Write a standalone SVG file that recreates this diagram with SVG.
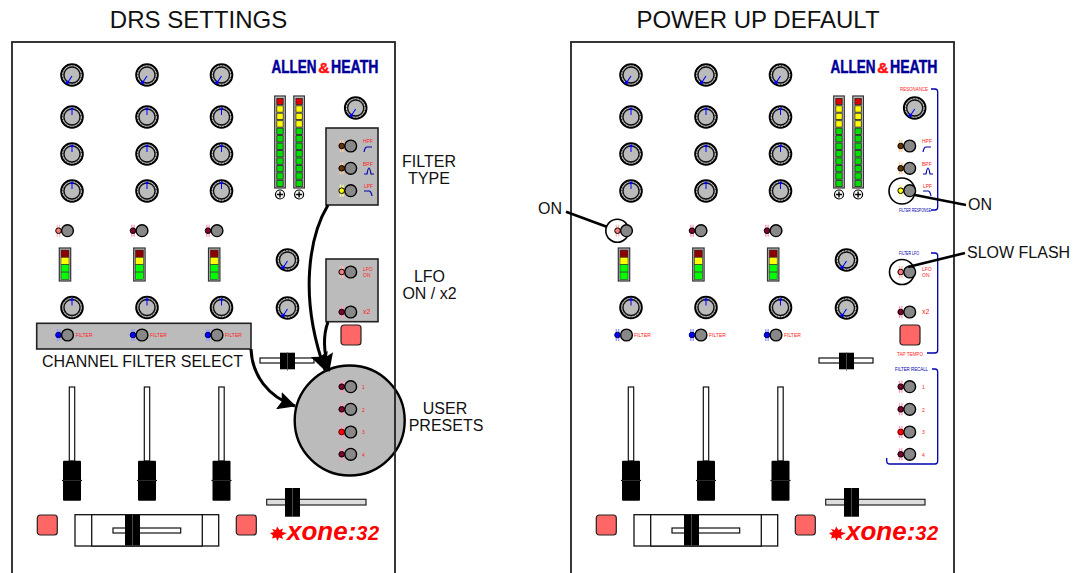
<svg xmlns="http://www.w3.org/2000/svg" width="1080" height="573" viewBox="0 0 1080 573">
<style>
text{font-family:"Liberation Sans",Arial,sans-serif;fill:#111}
.t{font-size:16px}
.title{font-size:24px;text-anchor:middle}
.c{text-anchor:middle}
.r{fill:#f22;font-size:5px}
.n{fill:#00a;font-size:5px}
.brand{font-size:18.5px;font-weight:bold;fill:#009;stroke:#009;stroke-width:.5}
.amp{font-size:15.5px;fill:#f11;stroke:#f11}
.xone{font-size:26px;font-weight:bold;font-style:italic;fill:#f00}
.box{fill:#bbb;stroke:#222;stroke-width:1.6}
.ring{fill:#fff;stroke:#000;stroke-width:1.6}
.lead{fill:none;stroke:#000;stroke-width:2.6}
.arrow{fill:none;stroke:#000;stroke-width:3;marker-end:url(#head)}
.brk{fill:none;stroke:#00a;stroke-width:1.3;stroke-linejoin:round}
.ic{fill:none;stroke:#00a;stroke-width:1.2}
.btn{fill:#f66;stroke:#222;stroke-width:1.2}
.trk{fill:#fff;stroke:#111;stroke-width:1.2}
.cap{fill:#000}
</style>
<defs>
<marker id="head" markerUnits="userSpaceOnUse" markerWidth="20" markerHeight="18" refX="17" refY="9" orient="auto"><path d="M0 0L18 9L0 18L3 9Z" fill="#000"/></marker>
<g id="kbase"><circle r="10.800" fill="#777" stroke="#000" stroke-width="2"/><circle r="9.300" fill="none" stroke="#ddd" stroke-width=".9" stroke-dasharray="2 1"/><circle r="8" fill="#bbb" stroke="#111" stroke-width="1.300"/></g>
<g id="kup"><use href="#kbase"/><path d="M0 -2V-8" stroke="#00f" stroke-width="1"/><path d="M-2 -7L0 -10L2 -7Z" fill="#00f"/></g>
<g id="klow"><use href="#kbase"/><path d="M0 1L-4 7" stroke="#00f" stroke-width="1.100"/><circle cx="-4.500" cy="7.500" r="1.700" fill="#00f"/></g>
<g id="skn"><circle r="5.900" fill="#888" stroke="#000" stroke-width="1.400"/></g>
<path id="glow" d="M-10.200 -6V6M-7.800 -6V6" stroke-width="1.300"/>
<g id="sw-dark"><use href="#glow" stroke="#f9b"/><circle cx="-9" r="2.800" fill="#800030" stroke="#000" stroke-width="1"/><use href="#skn"/></g>
<g id="sw-pink"><use href="#glow" stroke="#fbb"/><circle cx="-9" r="2.800" fill="#f77" stroke="#000" stroke-width="1"/><use href="#skn"/></g>
<g id="sw-red"><use href="#glow" stroke="#f9b"/><circle cx="-9" r="2.900" fill="#f00" stroke="#600" stroke-width="1"/><use href="#skn"/></g>
<g id="sw-brown"><use href="#glow" stroke="#fc9"/><circle cx="-9" r="2.800" fill="#630" stroke="#000" stroke-width="1"/><use href="#skn"/></g>
<g id="sw-yellow"><use href="#glow" stroke="#ff9"/><circle cx="-9" r="2.800" fill="#ff0" stroke="#000" stroke-width="1"/><use href="#skn"/></g>
<g id="sw-blue"><use href="#glow" stroke="#99f"/><circle cx="-9" r="2.800" fill="#00f" stroke="#006" stroke-width="1"/><use href="#skn"/></g>
<g id="s"><rect x="-3.200" y="-3.200" width="6.400" height="6.400" stroke="#222" stroke-width=".8"/></g>
<g id="meter">
<rect x="0" y="0" width="10.600" height="92" fill="#ccc" stroke="#333" stroke-width="1.200"/>
<g fill="#e00000"><use href="#s" x="5.300" y="5.500"/></g>
<g fill="#ff0"><use href="#s" x="5.300" y="13"/><use href="#s" x="5.300" y="20.400"/><use href="#s" x="5.300" y="27.900"/></g>
<g fill="#0d0"><use href="#s" x="5.300" y="35.300"/><use href="#s" x="5.300" y="42.800"/><use href="#s" x="5.300" y="50.200"/><use href="#s" x="5.300" y="57.700"/><use href="#s" x="5.300" y="65.100"/><use href="#s" x="5.300" y="72.600"/><use href="#s" x="5.300" y="80"/><use href="#s" x="5.300" y="87.500"/></g>
<circle cx="5.300" cy="98.500" r="4.500" fill="#fff" stroke="#000" stroke-width="1.200"/><path d="M2.300 98.500H8.300M5.300 95.500V101.500" stroke="#000" stroke-width="1.400"/>
</g>
<g id="cmeter">
<rect x="0" y="0" width="11.400" height="33" fill="#bbb" stroke="#333" stroke-width="1.200"/>
<rect x="1.700" y="2" width="8" height="7.300" fill="#8b0000" stroke="#333" stroke-width=".6"/>
<rect x="1.700" y="9.300" width="8" height="7.400" fill="#ff0" stroke="#333" stroke-width=".6"/>
<rect x="1.700" y="16.700" width="8" height="7.400" fill="#0f0" stroke="#333" stroke-width=".6"/>
<rect x="1.700" y="24.100" width="8" height="7.400" fill="#0f0" stroke="#333" stroke-width=".6"/>
</g>
<g id="fader">
<rect x="-2.700" y="7" width="5.400" height="74" class="trk"/>
<rect x="-9" y="80.700" width="18" height="40" rx="1" class="cap"/>
<path d="M-10 100.500H10" stroke="#000" stroke-width="1.200"/><path d="M-9 100.500H9" stroke="#555" stroke-width=".5"/>
</g>
<rect id="tap" width="20" height="20" rx="3" class="btn"/>
<g id="hw">
<rect x="12" y="42" width="383" height="560" fill="none" stroke="#222" stroke-width="1.800"/>
<g id="knobs">
<use href="#klow" x="72" y="75"/><use href="#klow" x="147" y="75"/><use href="#klow" x="221.500" y="75"/>
<use href="#kup" x="72" y="117"/><use href="#kup" x="147" y="117"/><use href="#kup" x="221.500" y="117"/>
<use href="#kup" x="72" y="154"/><use href="#kup" x="147" y="154"/><use href="#kup" x="221.500" y="154"/>
<use href="#kup" x="72" y="191"/><use href="#kup" x="147" y="191"/><use href="#kup" x="221.500" y="191"/>
<use href="#kup" x="72" y="307.500"/><use href="#kup" x="147" y="307.500"/><use href="#kup" x="221.500" y="307.500"/>
<use href="#klow" x="287.500" y="260"/><use href="#klow" x="287.500" y="308"/>
<use href="#klow" x="355.700" y="108"/>
</g>
<use href="#meter" x="274.700" y="96"/><use href="#meter" x="293.800" y="96"/>
<use href="#cmeter" x="59.300" y="248"/><use href="#cmeter" x="133.700" y="248"/><use href="#cmeter" x="208.500" y="248"/>
<use href="#sw-pink" x="67.500" y="230.700"/><use href="#sw-dark" x="142" y="230.700"/><use href="#sw-dark" x="217" y="230.700"/>
<use href="#sw-blue" x="67.500" y="335"/><use href="#sw-blue" x="142" y="335"/><use href="#sw-blue" x="217" y="335"/>
<use href="#sw-brown" x="350.700" y="146"/><use href="#sw-brown" x="350.700" y="168.300"/><use href="#sw-yellow" x="350.700" y="190.700"/>
<use href="#sw-pink" x="350.700" y="272"/><use href="#sw-dark" x="350.700" y="312"/>
<use href="#sw-dark" x="350.700" y="386.700"/><use href="#sw-dark" x="350.700" y="409.300"/><use href="#sw-red" x="350.700" y="432"/><use href="#sw-dark" x="350.700" y="454.300"/>
<path class="ic" d="M364 152Q365 147 367 147H372"/><path class="ic" d="M364 174H367Q368 168 369 168Q370 168 371 174H374"/><path class="ic" d="M364 191H369Q371 191 372 196"/>
<use href="#fader" x="72" y="380"/><use href="#fader" x="147" y="380"/><use href="#fader" x="221.500" y="380"/>
<use href="#tap" x="341" y="325"/><use href="#tap" x="37.300" y="515"/><use href="#tap" x="236.300" y="515"/>
<rect x="260" y="358" width="54" height="5" class="trk"/><rect x="280" y="352.700" width="15" height="16.600" class="cap"/><path d="M287.500 352V371" stroke="#666" stroke-width=".7"/>
<rect x="75" y="514.700" width="143.700" height="31.300" fill="#fff" stroke="#111" stroke-width="1.300"/><rect x="91.700" y="514.700" width="110.600" height="31.300" fill="#fff" stroke="#111" stroke-width="1.300"/>
<rect x="113" y="528" width="67.700" height="5" class="trk"/><rect x="125" y="515" width="15" height="30.500" class="cap"/><path d="M132.500 515V545" stroke="#666" stroke-width=".7"/>
<rect x="266.700" y="499.300" width="99.300" height="5.700" fill="#ddd" stroke="#222" stroke-width="1.200"/><rect x="285" y="488" width="15" height="28.700" class="cap"/><path d="M292.500 488V517" stroke="#666" stroke-width=".7"/>
<path d="M270 533L274 532L272 529L276 530L277 526.500L279.500 530L283 528.500L282 532L287 533L282 535.500L283 539L279 537.500L277.500 541L276 537.500L272 538.500L273 535.500Z" fill="#f00"/>
</g>
</defs>
<rect width="1080" height="573" fill="#fff"/>

<g id="drs-panel">
<circle id="user-presets-highlight" cx="349.700" cy="420.500" r="55" fill="#bbb" stroke="#000" stroke-width="2.400"/>
<rect id="filter-type-box" x="326" y="128" width="52" height="77" class="box"/>
<rect id="lfo-box" x="326" y="259" width="52" height="62.700" class="box"/>
<rect id="channel-filter-box" x="36.700" y="323.300" width="214.300" height="25.700" class="box"/>
<use href="#hw"/>
<g id="drs-labels">
<text x="271.500" y="72.700" class="brand" textLength="45" lengthAdjust="spacingAndGlyphs">ALLEN</text><text x="318.300" y="72.700" class="brand amp">&amp;</text><text x="331" y="72.700" class="brand" textLength="47.500" lengthAdjust="spacingAndGlyphs">HEATH</text>
<text x="287" y="540" class="xone">xone:<tspan font-size="20" letter-spacing=".6">32</tspan></text>
<text x="363" y="143" class="r">HPF</text><text x="363" y="166" class="r">BPF</text><text x="364" y="188" class="r">LPF</text>
<text x="363" y="271" class="r">LFO</text><text x="363" y="277" class="r">ON</text><text x="363" y="314" class="r" style="font-size:7px">x2</text>
<text x="362" y="389" class="r">1</text><text x="362" y="412" class="r">2</text><text x="362" y="434" class="r">3</text><text x="362" y="457" class="r">4</text>
<text x="75.700" y="337" class="r">FILTER</text><text x="150" y="337" class="r">FILTER</text><text x="225" y="337" class="r">FILTER</text>
</g>
</g>

<g id="power-panel">
<circle id="ring-ch1" cx="617.300" cy="230.700" r="11.500" class="ring"/>
<circle id="ring-lpf" cx="902" cy="191" r="13" class="ring"/>
<circle id="ring-lfo" cx="902" cy="272" r="12.500" class="ring"/>
<use href="#hw" x="559"/>
<g id="brackets">
<path class="brk" d="M931 89H935Q937.700 89 937.700 92V207Q937.700 210 935 210H931"/>
<path class="brk" d="M931 253H935Q937.700 253 937.700 256V350Q937.700 353 935 353H927"/>
<path class="brk" d="M932 369H935Q937.700 369 937.700 372V461Q937.700 464 935 464H890Q886.700 464 886.700 461V458"/>
</g>
<g id="power-labels">
<text x="830.500" y="72.700" class="brand" textLength="45" lengthAdjust="spacingAndGlyphs">ALLEN</text><text x="877.300" y="72.700" class="brand amp">&amp;</text><text x="890" y="72.700" class="brand" textLength="47.500" lengthAdjust="spacingAndGlyphs">HEATH</text>
<text x="846" y="540" class="xone">xone:<tspan font-size="20" letter-spacing=".6">32</tspan></text>
<text x="900" y="91" class="r" textLength="28" lengthAdjust="spacingAndGlyphs">RESONANCE</text>
<text x="899" y="212" class="n" textLength="32" lengthAdjust="spacingAndGlyphs">FILTER RESPONSE</text>
<text x="899" y="255" class="n" textLength="20" lengthAdjust="spacingAndGlyphs">FILTER LFO</text>
<text x="897" y="355.500" class="r" style="font-size:6px" textLength="26" lengthAdjust="spacingAndGlyphs">TAP TEMPO</text>
<text x="895" y="371" class="n" style="font-size:5.500px" textLength="33" lengthAdjust="spacingAndGlyphs">FILTER RECALL</text>
<text x="922" y="143" class="r">HPF</text><text x="922" y="166" class="r">BPF</text><text x="923" y="188" class="r">LPF</text>
<text x="922" y="271" class="r">LFO</text><text x="922" y="277" class="r">ON</text><text x="922" y="314" class="r" style="font-size:7px">x2</text>
<text x="922" y="389" class="r">1</text><text x="922" y="412" class="r">2</text><text x="922" y="434" class="r">3</text><text x="922" y="457" class="r">4</text>
<text x="634" y="337" class="r">FILTER</text><text x="709" y="337" class="r">FILTER</text><text x="784" y="337" class="r">FILTER</text>
</g>
</g>

<g id="connectors">
<path class="arrow" d="M328 205C310 235 298 295 325 370"/>
<path class="arrow" d="M328 322C323 335 323 350 329 371"/>
<path class="arrow" d="M251 349C252 375 268 397 295 406"/>
<path class="lead" d="M566 211.700L606.700 226.700"/>
<path class="lead" d="M915 195L966 205"/>
<path class="lead" d="M908 267L965 253"/>
</g>

<g id="captions">
<text x="198.500" y="28" class="title">DRS SETTINGS</text>
<text x="758" y="28" class="title">POWER UP DEFAULT</text>
<text x="429" y="167" class="t c">FILTER</text><text x="429" y="184" class="t c">TYPE</text>
<text x="429.500" y="282" class="t c">LFO</text><text x="429.500" y="298.500" class="t c">ON / x2</text>
<text x="445" y="414" class="t c">USER</text><text x="446" y="431" class="t c">PRESETS</text>
<text x="142.500" y="367" class="t c">CHANNEL FILTER SELECT</text>
<text x="538" y="214" class="t">ON</text><text x="968" y="210" class="t">ON</text><text x="967" y="258" class="t">SLOW FLASH</text>
</g>
</svg>
